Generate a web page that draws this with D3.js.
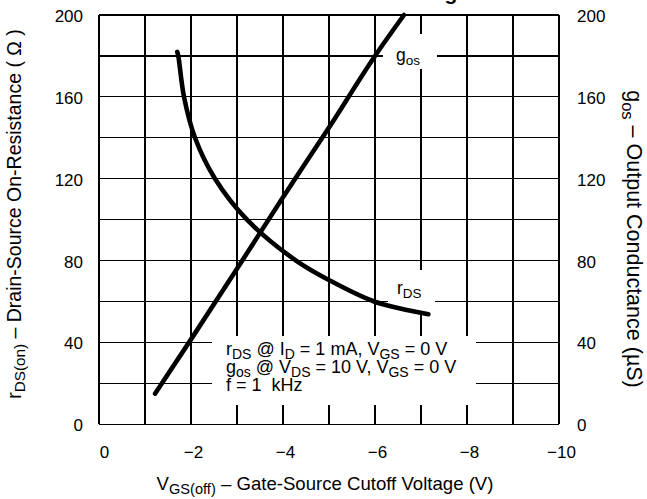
<!DOCTYPE html>
<html><head><meta charset="utf-8">
<script src="https://cdn.jsdelivr.net/npm/d3@7"></script>
<style>
html,body{margin:0;padding:0;background:#fff;}
svg{display:block;font-family:Arial,"Liberation Sans",Helvetica,sans-serif;}
</style></head>
<body>
<svg id="c" width="647" height="499"></svg>
<script>
// ---- data ----
const xTickValues = [0, -2, -4, -6, -8, -10];
const yTickValues = [0, 40, 80, 120, 160, 200];
const rdsVgs = [-1.70, -1.724, -1.848, -2.087, -2.522, -3.217, -4.283, -5.04, -5.98, -6.55, -7.16];
const rdsOhm = [182, 180, 160, 140, 120, 100, 80, 70, 60, 56.6, 53.8];
const gosVgs = [-1.22, -2, -3, -4, -5, -6, -6.63];
const gosUs  = [15, 41.5, 76, 111, 145, 180, 200];

const svg = d3.select("#c");
const L = 99, R = 559, T = 15, B = 424.3;
const x = d3.scaleLinear().domain([0, -10]).range([L, R]);
const y = d3.scaleLinear().domain([0, 200]).range([B, T]);
const y2 = d3.scaleLinear().domain([0, 200]).range([B, T]);

// top title (cut off by the top edge, only a descender shows)
svg.append("text").attr("x", 469).attr("y", -0.5).attr("text-anchor", "end")
  .attr("font-weight", "bold").attr("font-size", 21)
  .text("vs. Gate-Source Cutoff Voltage");

// grid
const g = svg.append("g").attr("stroke", "#000").attr("stroke-width", 1.2).attr("shape-rendering", "crispEdges");
g.selectAll("line.v").data(d3.range(0, -10.5, -1)).join("line").attr("class", "v")
  .attr("x1", d => x(d)).attr("x2", d => x(d)).attr("y1", T).attr("y2", B);
g.selectAll("line.h").data(d3.range(0, 201, 20)).join("line").attr("class", "h")
  .attr("x1", L).attr("x2", R).attr("y1", d => y(d)).attr("y2", d => y(d));

// white label boxes
const boxes = [[383, 34, 54, 35], [388, 270, 47, 42], [212, 336, 264, 69]];
svg.selectAll("rect.box").data(boxes).join("rect").attr("class", "box")
  .attr("x", d => d[0]).attr("y", d => d[1]).attr("width", d => d[2]).attr("height", d => d[3])
  .attr("fill", "#fff");

// curves
const rdsPts = rdsVgs.map((v, i) => [x(v), y(rdsOhm[i])]);
const gosPts = gosVgs.map((v, i) => [x(v), y2(gosUs[i])]);
const lineR = d3.line().curve(d3.curveCatmullRom.alpha(0.5));
const lineG = d3.line().curve(d3.curveMonotoneX);
[[rdsPts, lineR], [gosPts, lineG]].forEach(([p, ln]) => {
  svg.append("path").attr("d", ln(p)).attr("fill", "none").attr("stroke", "#000")
    .attr("stroke-width", 4.6).attr("stroke-linecap", "round").attr("stroke-linejoin", "round");
});

// axes (labels only)
const fs = 17;
const ax = svg.append("g").attr("transform", `translate(0,${B + 34})`)
  .call(d3.axisBottom(x).tickValues(xTickValues).tickSize(0).tickPadding(0));
ax.select(".domain").remove();
ax.selectAll("text").attr("font-size", fs).attr("font-family", null).attr("fill", "#000")
  .attr("dy", 0).attr("dx", d => d === 0 ? 5 : 2);

const ayl = svg.append("g").attr("transform", `translate(83,0)`)
  .call(d3.axisLeft(y).tickValues(yTickValues).tickSize(0).tickPadding(0));
ayl.select(".domain").remove();
ayl.selectAll("text").attr("font-size", fs).attr("font-family", null).attr("fill", "#000").attr("dy", "0.38em");

const ayr = svg.append("g").attr("transform", `translate(577,0)`)
  .call(d3.axisRight(y2).tickValues(yTickValues).tickSize(0).tickPadding(0));
ayr.select(".domain").remove();
ayr.selectAll("text").attr("font-size", fs).attr("font-family", null).attr("fill", "#000").attr("dy", "0.38em");

// helper for text with subscripts: parts = [[text, isSub], ...]
function rich(sel, parts, size, subSize, drop) {
  parts.forEach(([t, sub]) => {
    const ts = sel.append("tspan").text(t).attr("font-size", sub ? subSize : size);
    if (sub) ts.attr("baseline-shift", -drop);
  });
  return sel;
}

// axis titles
rich(svg.append("text").attr("x", 325).attr("y", 490).attr("text-anchor", "middle"),
  [["V", 0], ["GS(off)", 1], [" – Gate-Source Cutoff Voltage (V)", 0]], 18.6, 14.6, 4);
rich(svg.append("text").attr("transform", "translate(21,214) rotate(-90)").attr("text-anchor", "middle"),
  [["r", 0], ["DS(on)", 1], [" – Drain-Source On-Resistance ( Ω )", 0]], 19.5, 15.3, 4);
rich(svg.append("text").attr("transform", "translate(627,239) rotate(90)").attr("text-anchor", "middle"),
  [["g", 0], ["os", 1], [" – Output Conductance (µS)", 0]], 21.5, 16.5, 4.5);

// curve labels
rich(svg.append("text").attr("x", 396).attr("y", 61), [["g", 0], ["os", 1]], 17.5, 13.5, 4);
rich(svg.append("text").attr("x", 397).attr("y", 294), [["r", 0], ["DS", 1]], 17.5, 13.5, 4);

// conditions note
const ann = [
  [["r", 0], ["DS", 1], [" @ I", 0], ["D", 1], [" = 1 mA, V", 0], ["GS", 1], [" = 0 V", 0]],
  [["g", 0], ["os", 1], [" @ V", 0], ["DS", 1], [" = 10 V, V", 0], ["GS", 1], [" = 0 V", 0]],
  [["f = 1  kHz", 0]]
];
ann.forEach((p, i) => {
  rich(svg.append("text").attr("x", 226).attr("y", 355 + i * 18).attr("xml:space", "preserve")
    .style("white-space", "pre"), p, 18, 14, 4);
});
</script>
</body></html>
